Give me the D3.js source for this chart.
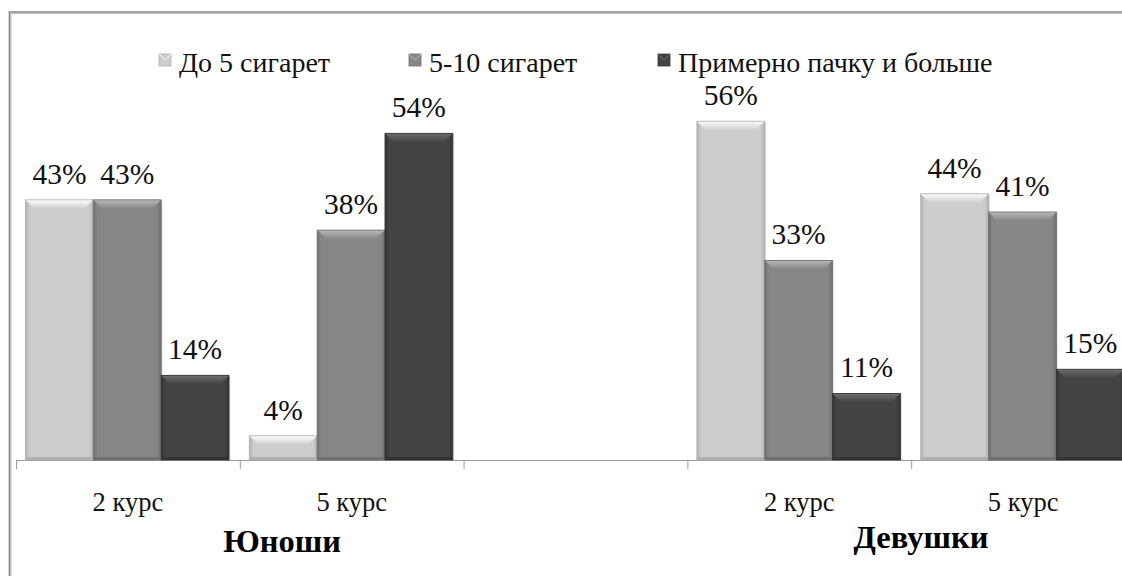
<!DOCTYPE html>
<html>
<head>
<meta charset="utf-8">
<script src="https://cdn.jsdelivr.net/npm/d3@7/dist/d3.min.js"></script>
<style>
  html, body { margin: 0; padding: 0; background: #fff; }
  svg { display: block; }
  svg text { font-family: 'Liberation Serif', 'Liberation Sans', sans-serif; }
</style>
</head>
<body>
<svg id="chart" width="1122" height="576"></svg>
<script>
// Smoking intensity by course, boys and girls
const slots = ["y2", "y5", "gap", "g2", "g5"];
const slotLabels = ["2 курс", "5 курс", "", "2 курс", "5 курс"];
const series = ["До 5 сигарет", "5-10 сигарет", "Примерно пачку и больше"];
const upTo5 = [43, 4, null, 56, 44];
const from5to10 = [43, 38, null, 33, 41];
const packOrMore = [14, 54, null, 11, 15];
const groupTitles = ["Юноши", "Девушки"];
const yMax = 60;

const seriesValues = [upTo5, from5to10, packOrMore];
const fills = ["#cdcdcd", "#868686", "#434343"];
const topLight = ["#fdfdfd", "#b8b8b8", "#6e6e6e"];
const edgeDark = ["#b0b0b0", "#6e6e6e", "#333333"];
const fontStack = "'Liberation Serif', 'Liberation Sans', sans-serif";

const svg = d3.select("#chart");
const baseY = 460;

const x = d3.scaleBand().domain(slots).range([16, 1135]).paddingInner(0).paddingOuter(0);
const xs = d3.scaleBand().domain(d3.range(series.length)).range([9.5, 213]).padding(0);
const y = d3.scaleLinear().domain([0, yMax]).range([baseY, baseY - 363]);

// outer frame
svg.append("rect")
  .attr("x", 10).attr("y", 12.5).attr("width", 1300).attr("height", 700)
  .attr("fill", "none").attr("stroke", "#c4c4c4").attr("stroke-width", 3);
svg.append("rect")
  .attr("x", 9.5).attr("y", 12).attr("width", 1300).attr("height", 700)
  .attr("fill", "none").attr("stroke", "#8a8a8a").attr("stroke-width", 1.2);

// gradients for the bevelled bars
const defs = svg.append("defs");
series.forEach((s, i) => {
  const g = defs.append("linearGradient").attr("id", "top" + i)
    .attr("x1", 0).attr("y1", 0).attr("x2", 0).attr("y2", 1);
  g.append("stop").attr("offset", 0).attr("stop-color", topLight[i]);
  g.append("stop").attr("offset", 1).attr("stop-color", fills[i]);
  const h = defs.append("linearGradient").attr("id", "side" + i)
    .attr("x1", 0).attr("y1", 0).attr("x2", 1).attr("y2", 0);
  h.append("stop").attr("offset", 0).attr("stop-color", edgeDark[i]);
  h.append("stop").attr("offset", 0.06).attr("stop-color", fills[i]);
  h.append("stop").attr("offset", 0.94).attr("stop-color", fills[i]);
  h.append("stop").attr("offset", 1).attr("stop-color", edgeDark[i]);
});

// axis line and boundary ticks
const bounds = d3.scaleLinear().domain([0, slots.length]).range([16, 1135]);
const axisG = svg.append("g").attr("transform", `translate(0,${baseY})`)
  .call(d3.axisBottom(bounds).ticks(slots.length).tickSize(9).tickFormat(""));
axisG.select(".domain").attr("stroke", "#9a9a9a").attr("d", "M16,0.5H1135");
axisG.selectAll(".tick line").attr("stroke", "#9a9a9a");

// category labels
const catAxis = svg.append("g").attr("transform", `translate(0,${baseY})`)
  .call(d3.axisBottom(x).tickSize(0).tickFormat((d, i) => slotLabels[i]));
catAxis.attr("font-family", fontStack);
catAxis.select(".domain").remove();
catAxis.selectAll(".tick text")
  .attr("font-family", fontStack)
  .attr("font-size", 26.5).attr("fill", "#111").attr("dy", 0).attr("y", 51);

// bars
const barData = [];
slots.forEach((slot, si) => {
  seriesValues.forEach((vals, k) => {
    if (vals[si] != null) barData.push({ slot, k, v: vals[si] });
  });
});

const bars = svg.append("g").selectAll("g.bar").data(barData).join("g").attr("class", "bar");
bars.each(function (d) {
  const g = d3.select(this);
  const x0 = x(d.slot) + xs(d.k);
  const w = xs.bandwidth();
  const y0 = y(d.v);
  const h = baseY - y0;
  const bev = Math.min(9, h / 2);
  g.append("rect").attr("x", x0 + 1.5).attr("y", y0 + 1).attr("width", w).attr("height", h - 1)
    .attr("fill", "#000").attr("opacity", 0.12);
  g.append("rect").attr("x", x0).attr("y", y0).attr("width", w).attr("height", h)
    .attr("fill", `url(#side${d.k})`);
  g.append("path")
    .attr("d", `M${x0},${y0}H${x0 + w}L${x0 + w - bev},${y0 + bev}H${x0 + bev}Z`)
    .attr("fill", `url(#top${d.k})`);
  g.append("rect").attr("x", x0).attr("y", baseY - 3).attr("width", w).attr("height", 3)
    .attr("fill", edgeDark[d.k]);
  g.append("rect").attr("x", x0).attr("y", y0).attr("width", w).attr("height", h)
    .attr("fill", "none").attr("stroke", edgeDark[d.k]).attr("stroke-width", 0.8);
});

// value labels
svg.append("g").selectAll("text").data(barData).join("text")
  .attr("x", d => x(d.slot) + xs(d.k) + xs.bandwidth() / 2)
  .attr("y", d => y(d.v) - 16)
  .attr("text-anchor", "middle")
  .attr("font-family", fontStack)
  .attr("font-size", 29.5).attr("fill", "#111")
  .text(d => d.v + "%");

// legend
const legendX = [159, 409, 658];
const legend = svg.append("g").selectAll("g").data(series).join("g")
  .attr("transform", (d, i) => `translate(${legendX[i]},0)`);
legend.append("rect").attr("x", 0).attr("y", 54).attr("width", 12).attr("height", 12)
  .attr("fill", (d, i) => fills[i]).attr("stroke", (d, i) => edgeDark[i]).attr("stroke-width", 0.8);
legend.append("path").attr("d", "M0,54L6,60L12,54").attr("fill", "none")
  .attr("stroke", (d, i) => topLight[i]).attr("stroke-width", 1);
legend.append("text").attr("x", 20).attr("y", 72)
  .attr("font-family", fontStack)
  .attr("font-size", 28).attr("fill", "#111").text(d => d);

// group titles
const titleX = [282, 921];
const titleY = [552, 548];
svg.append("g").selectAll("text").data(groupTitles).join("text")
  .attr("x", (d, i) => titleX[i]).attr("y", (d, i) => titleY[i])
  .attr("text-anchor", "middle").attr("font-weight", "bold")
  .attr("font-family", fontStack)
  .attr("font-size", 32.5).attr("fill", "#000").text(d => d);
</script>
</body>
</html>
